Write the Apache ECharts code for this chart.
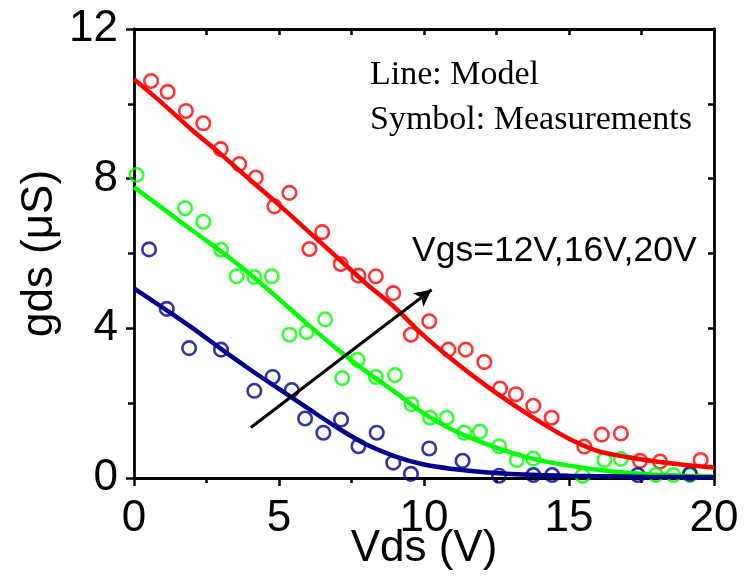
<!DOCTYPE html>
<html>
<head>
<meta charset="utf-8">
<script src="https://cdn.jsdelivr.net/npm/echarts@6/dist/echarts.min.js"></script>
<style>
  html, body { margin: 0; padding: 0; background: #fff; }
  #chart { width: 747px; height: 576px; }
</style>
</head>
<body>
<div id="chart"></div>
<script>
// Model curves (solid lines), sampled every 1 V
const modelVds   = [0, 1, 2, 3, 4, 5, 6, 7, 8, 9, 10, 11, 12, 13, 14, 15, 16, 17, 18, 19, 20];
const modelVgs20 = [10.66, 10.0, 9.3, 8.65, 7.97, 7.3, 6.6, 5.9, 5.2, 4.55, 3.8, 3.15, 2.55, 2.0, 1.5, 1.05, 0.72, 0.56, 0.44, 0.35, 0.28];
const modelVgs16 = [7.77, 7.2, 6.62, 6.06, 5.45, 4.78, 4.1, 3.45, 2.85, 2.3, 1.72, 1.28, 0.95, 0.68, 0.47, 0.33, 0.22, 0.14, 0.09, 0.06, 0.04];
const modelVgs12 = [5.07, 4.55, 4.02, 3.45, 2.9, 2.38, 1.86, 1.35, 0.9, 0.58, 0.36, 0.24, 0.16, 0.11, 0.08, 0.06, 0.05, 0.04, 0.03, 0.03, 0.02];

// Measured points (open circles)
const measVds20 = [0.59, 1.16, 1.79, 2.39, 2.99, 3.63, 4.2, 4.84, 5.36, 6.05, 6.49, 7.13, 7.74, 8.34, 8.94, 9.55, 10.18, 10.84, 11.44, 12.08, 12.62, 13.17, 13.77, 14.4, 15.53, 16.13, 16.79, 17.45, 18.14, 19.54];
const measGds20 = [10.61, 10.32, 9.81, 9.48, 8.79, 8.39, 8.03, 7.26, 7.62, 6.12, 6.57, 5.72, 5.41, 5.39, 4.94, 3.83, 4.19, 3.43, 3.43, 3.1, 2.39, 2.24, 1.93, 1.61, 0.84, 1.16, 1.19, 0.46, 0.44, 0.48];

const measVds16 = [0.09, 1.76, 2.39, 3.0, 3.54, 4.15, 4.75, 5.36, 5.95, 6.59, 7.18, 7.71, 8.34, 9.0, 9.57, 10.21, 10.78, 11.39, 11.93, 12.59, 13.2, 13.77, 15.47, 16.22, 16.79, 18.0, 18.6, 19.17];
const measGds16 = [8.1, 7.21, 6.85, 6.1, 5.39, 5.37, 5.39, 3.83, 3.9, 4.24, 2.67, 3.16, 2.7, 2.75, 1.97, 1.61, 1.61, 1.21, 1.24, 0.85, 0.48, 0.52, 0.06, 0.48, 0.51, 0.08, 0.08, 0.08];

const measVds12 = [0.52, 1.13, 1.9, 3.0, 4.15, 4.78, 5.44, 5.9, 6.53, 7.14, 7.74, 8.37, 8.94, 9.55, 10.18, 11.33, 12.59, 13.77, 14.42, 17.37, 19.17];
const measGds12 = [6.11, 4.52, 3.47, 3.43, 2.33, 2.7, 2.35, 1.59, 1.21, 1.56, 0.85, 1.21, 0.41, 0.11, 0.79, 0.46, 0.06, 0.08, 0.08, 0.08, 0.11];

// Trend arrow (increasing Vgs), in data coordinates
const arrowStart = [4.03, 1.35];
const arrowEnd   = [10.26, 5.03];

const xTicks = { min: 0, max: 20, interval: 5 };
const yTicks = { min: 0, max: 12, interval: 4 };

const RED = '#ff0000', GREEN = '#00ff00', BLUE = '#00008f';
const SANS = '"Liberation Sans", Arial, sans-serif';
const SERIF = '"Liberation Serif", "Times New Roman", serif';

const zip = (xs, ys) => xs.map((x, i) => [x, ys[i]]);

function scatter(name, xs, ys, color) {
  return {
    name, type: 'scatter', data: zip(xs, ys),
    symbol: 'circle', symbolSize: 13.5,
    itemStyle: { color: 'rgba(0,0,0,0)', borderColor: color, borderWidth: 2.6 },
    z: 2
  };
}
function model(name, ys, color) {
  return {
    name, type: 'line', data: zip(modelVds, ys), smooth: 0.3,
    showSymbol: false, symbol: 'none',
    lineStyle: { color, width: 4.5 },
    z: 3
  };
}

const chart = echarts.init(document.getElementById('chart'), null, { renderer: 'canvas' });

const frameLine = { show: true, onZero: false, lineStyle: { color: '#000', width: 2.8 } };
const tickStyle = { color: '#000', width: 2.5 };

chart.setOption({
  animation: false,
  backgroundColor: '#fff',
  grid: { left: 134, right: 33, top: 29, bottom: 98, containLabel: false, outerBoundsMode: 'none' },
  xAxis: [
    {
      type: 'value', min: xTicks.min, max: xTicks.max, interval: xTicks.interval,
      name: 'Vds (V)', nameLocation: 'middle', nameGap: 49, nameMoveOverlap: false,
      nameTextStyle: { fontFamily: SANS, fontSize: 44, color: '#000' },
      axisLine: frameLine,
      axisTick: { show: true, inside: false, length: 8, lineStyle: tickStyle },
      minorTick: { show: true, splitNumber: 2, length: 5, lineStyle: tickStyle },
      axisLabel: { fontFamily: SANS, fontSize: 44, color: '#000', margin: 19 },
      splitLine: { show: false }
    },
    {
      type: 'value', position: 'top', min: xTicks.min, max: xTicks.max, interval: 2.5,
      axisLine: frameLine,
      axisTick: { show: true, inside: true, length: 6, lineStyle: tickStyle },
      axisLabel: { show: false }, splitLine: { show: false }
    }
  ],
  yAxis: [
    {
      type: 'value', min: yTicks.min, max: yTicks.max, interval: yTicks.interval,
      name: 'gds (\u03bcS)', nameLocation: 'middle', nameGap: 72, nameRotate: 90, nameMoveOverlap: false,
      nameTextStyle: { fontFamily: SANS, fontSize: 44, color: '#000' },
      axisLine: frameLine,
      axisTick: { show: true, inside: false, length: 8, lineStyle: tickStyle },
      minorTick: { show: true, splitNumber: 2, length: 6, lineStyle: tickStyle },
      axisLabel: { fontFamily: SANS, fontSize: 44, color: '#000', margin: 16 },
      splitLine: { show: false }
    },
    {
      type: 'value', position: 'right', min: yTicks.min, max: yTicks.max, interval: 2,
      axisLine: frameLine,
      axisTick: { show: true, inside: true, length: 6, lineStyle: tickStyle },
      axisLabel: { show: false }, splitLine: { show: false }
    }
  ],
  series: [
    scatter('Vgs=20V measured', measVds20, measGds20, RED),
    scatter('Vgs=16V measured', measVds16, measGds16, GREEN),
    scatter('Vgs=12V measured', measVds12, measGds12, BLUE),
    model('Vgs=20V model', modelVgs20, RED),
    model('Vgs=16V model', modelVgs16, GREEN),
    model('Vgs=12V model', modelVgs12, BLUE),
    {
      name: 'trend', type: 'line', data: [], z: 5,
      markLine: {
        silent: true, animation: false,
        symbol: ['none', 'arrow'], symbolSize: [13, 17],
        lineStyle: { color: '#000', width: 3, type: 'solid' },
        label: { show: false },
        data: [[{ coord: arrowStart }, { coord: arrowEnd }]]
      }
    }
  ],
  graphic: [
    { type: 'text', left: 370, top: 58,
      style: { text: 'Line: Model', fontFamily: SERIF, fontSize: 34, fill: '#000' } },
    { type: 'text', left: 370, top: 103,
      style: { text: 'Symbol: Measurements', fontFamily: SERIF, fontSize: 34, fill: '#000' } },
    { type: 'text', left: 412, top: 233,
      style: { text: 'Vgs=12V,16V,20V', fontFamily: SANS, fontSize: 35.5, fill: '#000' } }
  ]
});
</script>
</body>
</html>
